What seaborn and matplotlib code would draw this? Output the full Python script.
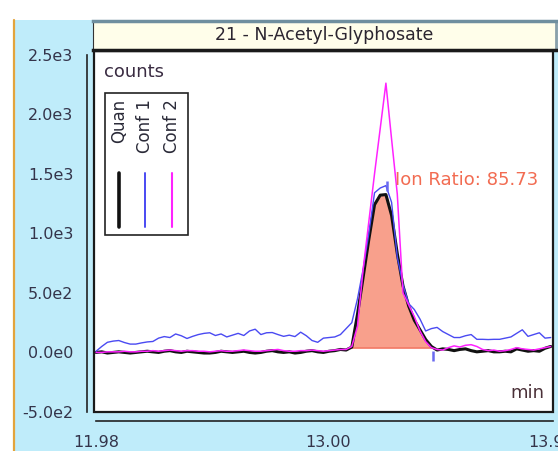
"""
Хроматограмма: 21 - N-Acetyl-Glyphosate (Quan / Conf 1 / Conf 2).
"""

import matplotlib
matplotlib.use('Agg')
import matplotlib.pyplot as plt
import matplotlib.ticker as mticker
from matplotlib.patches import Rectangle
from matplotlib.lines import Line2D
import pandas as pd
import seaborn as sns

# время удерживания, мин
time = [
    11.980, 12.005, 12.030, 12.055, 12.080, 12.105, 12.130, 12.155, 12.180, 12.205,
    12.230, 12.255, 12.280, 12.305, 12.330, 12.355, 12.380, 12.405, 12.430, 12.455,
    12.480, 12.505, 12.530, 12.555, 12.580, 12.605, 12.630, 12.655, 12.680, 12.705,
    12.730, 12.755, 12.780, 12.805, 12.830, 12.855, 12.880, 12.905, 12.930, 12.955,
    12.980, 13.005, 13.030, 13.055, 13.080, 13.105, 13.130, 13.155, 13.180, 13.205,
    13.230, 13.255, 13.280, 13.305, 13.330, 13.355, 13.380, 13.405, 13.430, 13.455,
    13.480, 13.505, 13.530, 13.555, 13.580, 13.605, 13.630, 13.655, 13.680, 13.705,
    13.730, 13.755, 13.780, 13.805, 13.830, 13.855, 13.880, 13.905, 13.930, 13.955,
    13.980,
]

quan = [
    0, 5, -5, 0, 5, 0, -5, 0, 5, 10,
    5, 0, 10, 15, 5, 0, 10, 5, 0, -5,
    -5, 0, 10, 5, 0, 5, 10, 0, -5, 0,
    10, 15, 5, 0, 5, -5, 0, 10, 15, 5,
    0, 10, 15, 25, 20, 45, 320, 633, 950, 1240,
    1320, 1325, 1150, 830, 560, 390, 270, 190, 108, 50,
    20, 30, 25, 15, 25, 30, 15, 5, 10, 15,
    5, 5, 10, 5, 30, 20, 10, 15, 10, 35,
    50,
]

conf1 = [
    10, 50, 85, 95, 100, 83, 70, 70, 80, 88,
    92, 120, 133, 125, 155, 140, 117, 135, 150, 160,
    165, 142, 155, 130, 145, 160, 142, 180, 195, 150,
    165, 167, 150, 135, 145, 133, 170, 140, 100, 85,
    120, 125, 130, 150, 200, 250, 450, 700, 1000, 1340,
    1380, 1400, 1260, 800, 570, 410, 360, 280, 180, 200,
    210, 175, 150, 125, 125, 140, 150, 110, 110, 108,
    110, 110, 120, 130, 160, 190, 135, 150, 165, 120,
    125,
]

conf2 = [
    0, 0, 5, 5, 5, 10, 5, 5, 10, 10,
    15, 10, 15, 20, 15, 10, 15, 15, 10, 10,
    5, 10, 15, 10, 10, 15, 20, 15, 10, 10,
    15, 20, 25, 15, 10, 10, 15, 15, 20, 15,
    10, 15, 20, 25, 25, 50, 220, 700, 1100, 1500,
    1880, 2260, 1790, 1330, 500, 400, 300, 180, 90, 40,
    25, 20, 40, 55, 45, 60, 65, 50, 25, 15,
    20, 10, 15, 25, 40, 30, 25, 20, 30, 40,
    50,
]

trace_names = ['Quan', 'Conf 1', 'Conf 2']
trace_colors = ['#111111', '#4a4af2', '#ff22ff']
trace_widths = [2.2, 1.0, 1.1]

title = '21 - N-Acetyl-Glyphosate'
ion_ratio = 'Ion Ratio: 85.73'

y_ticks = [-500, 0, 500, 1000, 1500, 2000, 2500]
y_ticklabels = ['-5.0e2', '0.0e0', '5.0e2', '1.0e3', '1.5e3', '2.0e3', '2.5e3']
x_ticks = [11.98, 13.00, 13.98]
x_ticklabels = ['11.98', '13.00', '13.98']
x_minor = [12.25, 12.50, 12.75, 13.25, 13.50, 13.75]

# границы интегрирования пика
peak_start, peak_end, peak_base = 13.105, 13.455, 40
# метки пика на Conf 1
mark_x = [13.26, 13.463]
mark_y = [1400, -30]

sns.set_style('white')
plt.rcParams['font.family'] = ['DejaVu Sans']

W, H = 558, 451
fig = plt.figure(figsize=(W / 100, H / 100), dpi=100)
fig.patch.set_facecolor('white')


def fx(px):
    return px / W


def fy(py):
    return 1 - py / H


# голубая подложка и оранжевая кромка слева
fig.add_artist(Rectangle((fx(14), 0), 1 - fx(14), fy(20), transform=fig.transFigure,
                         facecolor='#bfecfa', edgecolor='none', zorder=-5))
fig.add_artist(Line2D([fx(13.5), fx(13.5)], [0, fy(20)], transform=fig.transFigure,
                      color='#e3a43c', lw=1.6, zorder=-4))

# основной график
ax = fig.add_axes([fx(94), fy(412), fx(553) - fx(94), fy(51) - fy(412)])
ax.set_facecolor('white')

df = pd.DataFrame({
    'time': time * 3,
    'counts': quan + conf1 + conf2,
    'trace': [n for n in trace_names for _ in time],
})

t = pd.Series(time)
in_peak = (t >= peak_start) & (t <= peak_end)
ax.fill_between(time, quan, peak_base, where=in_peak, color='#f8a08c', lw=0, zorder=1)
ax.plot([peak_start, peak_end], [peak_base, peak_base], color='#f27a66', lw=1.2, zorder=1.5)

sns.lineplot(data=df, x='time', y='counts', hue='trace', hue_order=trace_names,
             palette=dict(zip(trace_names, trace_colors)),
             size='trace', sizes=dict(zip(trace_names, trace_widths)),
             estimator=None, sort=False, legend=False, ax=ax, zorder=2)
ax.plot(mark_x, mark_y, '|', color='#6a6af0', ms=7, mew=1.8, zorder=3)

ax.set_xlim(11.971, 13.99)
ax.set_ylim(-500, 2530)
ax.set_xlabel('')
ax.set_ylabel('')

ax.spines['top'].set_visible(False)
ax.spines['right'].set_visible(False)
ax.spines['left'].set_position(('outward', 5))
ax.spines['bottom'].set_position(('outward', 6.5))
ax.spines['left'].set_bounds(-500, 2500)
ax.spines['bottom'].set_bounds(11.98, 13.99)
for s in ('left', 'bottom'):
    ax.spines[s].set_color('#222222')
    ax.spines[s].set_linewidth(1.2)

ax.set_yticks(y_ticks, y_ticklabels)
ax.yaxis.set_minor_locator(mticker.MultipleLocator(100))
ax.set_xticks(x_ticks, x_ticklabels)
ax.set_xticks(x_minor, minor=True)
ax.tick_params(which='major', direction='out', length=7, width=1.2, pad=3,
               labelsize=11.5, color='#222222', labelcolor='#34344a')
ax.tick_params(which='minor', direction='out', length=4, width=1.1, color='#222222')

ax.add_patch(Rectangle((0, 0), 1, 1, transform=ax.transAxes, fill=False,
                       edgecolor='#1a1a1a', lw=1.6, clip_on=False, zorder=6))

# подписи внутри графика
fig.text(fx(104), fy(72), 'counts', ha='left', va='center', fontsize=13, color='#3a2c42')
fig.text(fx(544), fy(393), 'min', ha='right', va='center', fontsize=13, color='#4a3038')
fig.text(fx(395), fy(180), ion_ratio, ha='left', va='center', fontsize=13, color='#f26c52')

# легенда
fig.add_artist(Rectangle((fx(105), fy(235)), fx(188) - fx(105), fy(93) - fy(235),
                         transform=fig.transFigure, facecolor='white',
                         edgecolor='#222222', lw=1.2, zorder=10))
for px, name, col, lw in zip([119, 145, 172], trace_names, trace_colors, trace_widths):
    fig.text(fx(px), fy(99), name, rotation=90, ha='center', va='top',
             fontsize=12, color='#2a2a38', zorder=11)
    fig.add_artist(Line2D([fx(px), fx(px)], [fy(173), fy(227)], transform=fig.transFigure,
                          color=col, lw=lw + 0.4, zorder=11))

# заголовок
tax = fig.add_axes([fx(93), fy(50), fx(556) - fx(93), fy(21) - fy(50)])
tax.set_facecolor('#fffeea')
tax.set_xticks([])
tax.set_yticks([])
tax.spines['top'].set_color('#6f8f9f')
tax.spines['top'].set_linewidth(2.5)
tax.spines['bottom'].set_color('#1a1a1a')
tax.spines['bottom'].set_linewidth(2.5)
tax.spines['left'].set_color('#333333')
tax.spines['right'].set_color('#8aa0aa')
tax.spines['right'].set_linewidth(2)
tax.text(0.5, 0.5, title, transform=tax.transAxes, ha='center', va='center',
         fontsize=12.5, color='#2b2530')

plt.savefig('out.png', dpi=100)
plt.close()
